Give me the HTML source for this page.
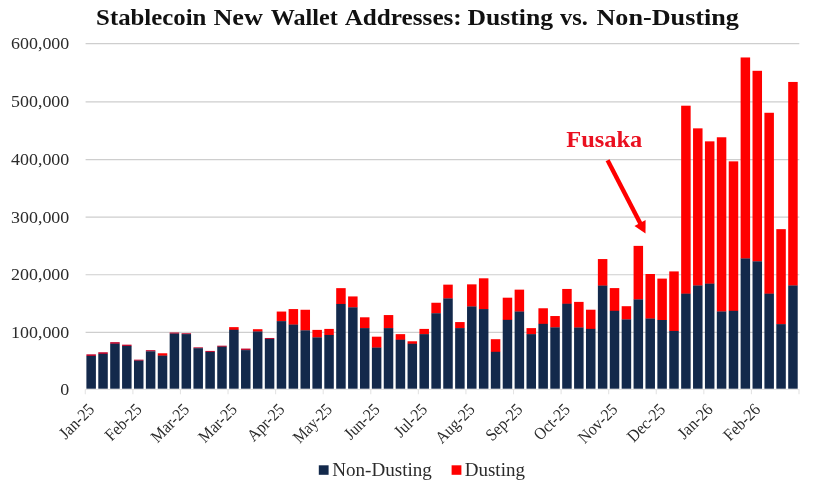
<!DOCTYPE html><html><head><meta charset="utf-8"><title>Stablecoin New Wallet Addresses</title>
<style>html,body{margin:0;padding:0;background:#fff}body{width:825px;height:485px;overflow:hidden}svg{display:block}text{font-family:"Liberation Serif",serif}</style></head><body>
<svg width="825" height="485" viewBox="0 0 825 485">
<rect width="825" height="485" fill="#fff"/>
<line x1="85.60" x2="799.30" y1="332.40" y2="332.40" stroke="#cecece" stroke-width="1.1"/>
<line x1="85.60" x2="799.30" y1="274.80" y2="274.80" stroke="#cecece" stroke-width="1.1"/>
<line x1="85.60" x2="799.30" y1="217.10" y2="217.10" stroke="#cecece" stroke-width="1.1"/>
<line x1="85.60" x2="799.30" y1="159.65" y2="159.65" stroke="#cecece" stroke-width="1.1"/>
<line x1="85.60" x2="799.30" y1="101.85" y2="101.85" stroke="#cecece" stroke-width="1.1"/>
<line x1="85.60" x2="799.30" y1="43.60" y2="43.60" stroke="#cecece" stroke-width="1.1"/>
<line x1="85.20" x2="799.30" y1="389.50" y2="389.50" stroke="#e4e4e4" stroke-width="1"/>
<line x1="85.30" x2="85.30" y1="389.5" y2="394.3" stroke="#e4e4e4" stroke-width="1.1"/>
<line x1="132.88" x2="132.88" y1="389.5" y2="394.3" stroke="#e4e4e4" stroke-width="1.1"/>
<line x1="180.46" x2="180.46" y1="389.5" y2="394.3" stroke="#e4e4e4" stroke-width="1.1"/>
<line x1="228.04" x2="228.04" y1="389.5" y2="394.3" stroke="#e4e4e4" stroke-width="1.1"/>
<line x1="275.62" x2="275.62" y1="389.5" y2="394.3" stroke="#e4e4e4" stroke-width="1.1"/>
<line x1="323.20" x2="323.20" y1="389.5" y2="394.3" stroke="#e4e4e4" stroke-width="1.1"/>
<line x1="370.78" x2="370.78" y1="389.5" y2="394.3" stroke="#e4e4e4" stroke-width="1.1"/>
<line x1="418.36" x2="418.36" y1="389.5" y2="394.3" stroke="#e4e4e4" stroke-width="1.1"/>
<line x1="465.94" x2="465.94" y1="389.5" y2="394.3" stroke="#e4e4e4" stroke-width="1.1"/>
<line x1="513.52" x2="513.52" y1="389.5" y2="394.3" stroke="#e4e4e4" stroke-width="1.1"/>
<line x1="561.10" x2="561.10" y1="389.5" y2="394.3" stroke="#e4e4e4" stroke-width="1.1"/>
<line x1="608.68" x2="608.68" y1="389.5" y2="394.3" stroke="#e4e4e4" stroke-width="1.1"/>
<line x1="656.26" x2="656.26" y1="389.5" y2="394.3" stroke="#e4e4e4" stroke-width="1.1"/>
<line x1="703.84" x2="703.84" y1="389.5" y2="394.3" stroke="#e4e4e4" stroke-width="1.1"/>
<line x1="751.42" x2="751.42" y1="389.5" y2="394.3" stroke="#e4e4e4" stroke-width="1.1"/>
<line x1="799.00" x2="799.00" y1="389.5" y2="394.3" stroke="#e4e4e4" stroke-width="1.1"/>
<text transform="translate(60.36,395.10) scale(1.03,1)" font-size="17.4" fill="#2b2b2b">0</text>
<text transform="translate(11.05,338.00) scale(1.03,1)" font-size="17.4" fill="#2b2b2b">100,000</text>
<text transform="translate(11.05,280.40) scale(1.03,1)" font-size="17.4" fill="#2b2b2b">200,000</text>
<text transform="translate(11.05,222.70) scale(1.03,1)" font-size="17.4" fill="#2b2b2b">300,000</text>
<text transform="translate(11.05,165.25) scale(1.03,1)" font-size="17.4" fill="#2b2b2b">400,000</text>
<text transform="translate(11.05,107.45) scale(1.03,1)" font-size="17.4" fill="#2b2b2b">500,000</text>
<text transform="translate(11.05,49.20) scale(1.03,1)" font-size="17.4" fill="#2b2b2b">600,000</text>
<rect x="86.40" y="354.31" width="9.5" height="1.78" fill="#c20a30"/>
<rect x="86.40" y="355.94" width="9.5" height="32.76" fill="#13294b"/>
<rect x="98.29" y="352.23" width="9.5" height="1.78" fill="#c20a30"/>
<rect x="98.29" y="353.86" width="9.5" height="34.84" fill="#13294b"/>
<rect x="110.19" y="342.13" width="9.5" height="1.78" fill="#c20a30"/>
<rect x="110.19" y="343.76" width="9.5" height="44.94" fill="#13294b"/>
<rect x="122.08" y="344.65" width="9.5" height="1.49" fill="#c20a30"/>
<rect x="122.08" y="345.99" width="9.5" height="42.71" fill="#13294b"/>
<rect x="133.98" y="359.65" width="9.5" height="1.20" fill="#c20a30"/>
<rect x="133.98" y="360.70" width="9.5" height="28.00" fill="#13294b"/>
<rect x="145.87" y="350.15" width="9.5" height="1.34" fill="#c20a30"/>
<rect x="145.87" y="351.34" width="9.5" height="37.36" fill="#13294b"/>
<rect x="157.77" y="353.27" width="9.5" height="2.57" fill="#ff0000"/>
<rect x="157.77" y="355.64" width="9.5" height="33.06" fill="#13294b"/>
<rect x="169.66" y="332.48" width="9.5" height="1.33" fill="#c20a30"/>
<rect x="169.66" y="333.66" width="9.5" height="55.04" fill="#13294b"/>
<rect x="181.56" y="333.22" width="9.5" height="1.03" fill="#c20a30"/>
<rect x="181.56" y="334.10" width="9.5" height="54.60" fill="#13294b"/>
<rect x="193.45" y="347.33" width="9.5" height="1.04" fill="#c20a30"/>
<rect x="193.45" y="348.22" width="9.5" height="40.48" fill="#13294b"/>
<rect x="205.35" y="350.91" width="9.5" height="1.21" fill="#c20a30"/>
<rect x="205.35" y="351.97" width="9.5" height="36.73" fill="#13294b"/>
<rect x="217.24" y="345.68" width="9.5" height="1.21" fill="#c20a30"/>
<rect x="217.24" y="346.74" width="9.5" height="41.96" fill="#13294b"/>
<rect x="229.14" y="327.13" width="9.5" height="2.84" fill="#ff0000"/>
<rect x="229.14" y="329.77" width="9.5" height="58.93" fill="#13294b"/>
<rect x="241.03" y="348.56" width="9.5" height="1.72" fill="#c20a30"/>
<rect x="241.03" y="350.13" width="9.5" height="38.57" fill="#13294b"/>
<rect x="252.93" y="329.20" width="9.5" height="2.50" fill="#ff0000"/>
<rect x="252.93" y="331.50" width="9.5" height="57.20" fill="#13294b"/>
<rect x="264.82" y="337.97" width="9.5" height="1.16" fill="#c20a30"/>
<rect x="264.82" y="338.98" width="9.5" height="49.72" fill="#13294b"/>
<rect x="276.72" y="311.55" width="9.5" height="9.80" fill="#ff0000"/>
<rect x="276.72" y="321.15" width="9.5" height="67.55" fill="#13294b"/>
<rect x="288.61" y="309.07" width="9.5" height="15.73" fill="#ff0000"/>
<rect x="288.61" y="324.60" width="9.5" height="64.10" fill="#13294b"/>
<rect x="300.51" y="309.76" width="9.5" height="20.79" fill="#ff0000"/>
<rect x="300.51" y="330.35" width="9.5" height="58.35" fill="#13294b"/>
<rect x="312.40" y="329.89" width="9.5" height="7.73" fill="#ff0000"/>
<rect x="312.40" y="337.42" width="9.5" height="51.28" fill="#13294b"/>
<rect x="324.30" y="328.91" width="9.5" height="6.24" fill="#ff0000"/>
<rect x="324.30" y="334.95" width="9.5" height="53.75" fill="#13294b"/>
<rect x="336.19" y="288.14" width="9.5" height="16.02" fill="#ff0000"/>
<rect x="336.19" y="303.96" width="9.5" height="84.74" fill="#13294b"/>
<rect x="348.09" y="296.43" width="9.5" height="11.12" fill="#ff0000"/>
<rect x="348.09" y="307.35" width="9.5" height="81.35" fill="#13294b"/>
<rect x="359.98" y="317.30" width="9.5" height="11.01" fill="#ff0000"/>
<rect x="359.98" y="328.11" width="9.5" height="60.59" fill="#13294b"/>
<rect x="371.88" y="336.68" width="9.5" height="11.12" fill="#ff0000"/>
<rect x="371.88" y="347.60" width="9.5" height="41.10" fill="#13294b"/>
<rect x="383.77" y="315.06" width="9.5" height="13.25" fill="#ff0000"/>
<rect x="383.77" y="328.11" width="9.5" height="60.59" fill="#13294b"/>
<rect x="395.67" y="334.14" width="9.5" height="5.78" fill="#ff0000"/>
<rect x="395.67" y="339.72" width="9.5" height="48.98" fill="#13294b"/>
<rect x="407.56" y="341.27" width="9.5" height="2.68" fill="#ff0000"/>
<rect x="407.56" y="343.75" width="9.5" height="44.95" fill="#13294b"/>
<rect x="419.46" y="328.91" width="9.5" height="5.43" fill="#ff0000"/>
<rect x="419.46" y="334.14" width="9.5" height="54.56" fill="#13294b"/>
<rect x="431.35" y="302.75" width="9.5" height="10.72" fill="#ff0000"/>
<rect x="431.35" y="313.27" width="9.5" height="75.43" fill="#13294b"/>
<rect x="443.25" y="284.64" width="9.5" height="14.00" fill="#ff0000"/>
<rect x="443.25" y="298.44" width="9.5" height="90.26" fill="#13294b"/>
<rect x="455.14" y="322.07" width="9.5" height="6.24" fill="#ff0000"/>
<rect x="455.14" y="328.11" width="9.5" height="60.59" fill="#13294b"/>
<rect x="467.04" y="284.35" width="9.5" height="22.34" fill="#ff0000"/>
<rect x="467.04" y="306.49" width="9.5" height="82.21" fill="#13294b"/>
<rect x="478.93" y="278.31" width="9.5" height="30.96" fill="#ff0000"/>
<rect x="478.93" y="309.07" width="9.5" height="79.63" fill="#13294b"/>
<rect x="490.83" y="339.20" width="9.5" height="12.80" fill="#ff0000"/>
<rect x="490.83" y="351.80" width="9.5" height="36.90" fill="#13294b"/>
<rect x="502.72" y="297.69" width="9.5" height="22.34" fill="#ff0000"/>
<rect x="502.72" y="319.83" width="9.5" height="68.87" fill="#13294b"/>
<rect x="514.62" y="289.64" width="9.5" height="22.11" fill="#ff0000"/>
<rect x="514.62" y="311.55" width="9.5" height="77.15" fill="#13294b"/>
<rect x="526.51" y="328.11" width="9.5" height="6.23" fill="#ff0000"/>
<rect x="526.51" y="334.14" width="9.5" height="54.56" fill="#13294b"/>
<rect x="538.41" y="308.27" width="9.5" height="15.78" fill="#ff0000"/>
<rect x="538.41" y="323.85" width="9.5" height="64.85" fill="#13294b"/>
<rect x="550.30" y="316.03" width="9.5" height="11.53" fill="#ff0000"/>
<rect x="550.30" y="327.36" width="9.5" height="61.34" fill="#13294b"/>
<rect x="562.20" y="288.95" width="9.5" height="14.98" fill="#ff0000"/>
<rect x="562.20" y="303.73" width="9.5" height="84.97" fill="#13294b"/>
<rect x="574.09" y="301.89" width="9.5" height="25.84" fill="#ff0000"/>
<rect x="574.09" y="327.53" width="9.5" height="61.17" fill="#13294b"/>
<rect x="585.99" y="309.71" width="9.5" height="19.35" fill="#ff0000"/>
<rect x="585.99" y="328.86" width="9.5" height="59.84" fill="#13294b"/>
<rect x="597.88" y="259.05" width="9.5" height="26.77" fill="#ff0000"/>
<rect x="597.88" y="285.62" width="9.5" height="103.08" fill="#13294b"/>
<rect x="609.78" y="288.09" width="9.5" height="22.91" fill="#ff0000"/>
<rect x="609.78" y="310.80" width="9.5" height="77.90" fill="#13294b"/>
<rect x="621.67" y="306.20" width="9.5" height="13.43" fill="#ff0000"/>
<rect x="621.67" y="319.43" width="9.5" height="69.27" fill="#13294b"/>
<rect x="633.57" y="245.88" width="9.5" height="53.74" fill="#ff0000"/>
<rect x="633.57" y="299.42" width="9.5" height="89.28" fill="#13294b"/>
<rect x="645.46" y="274.00" width="9.5" height="44.76" fill="#ff0000"/>
<rect x="645.46" y="318.56" width="9.5" height="70.14" fill="#13294b"/>
<rect x="657.36" y="278.60" width="9.5" height="41.60" fill="#ff0000"/>
<rect x="657.36" y="320.00" width="9.5" height="68.70" fill="#13294b"/>
<rect x="669.25" y="271.41" width="9.5" height="59.72" fill="#ff0000"/>
<rect x="669.25" y="330.93" width="9.5" height="57.77" fill="#13294b"/>
<rect x="681.15" y="105.70" width="9.5" height="188.17" fill="#ff0000"/>
<rect x="681.15" y="293.67" width="9.5" height="95.03" fill="#13294b"/>
<rect x="693.04" y="128.35" width="9.5" height="157.35" fill="#ff0000"/>
<rect x="693.04" y="285.50" width="9.5" height="103.20" fill="#13294b"/>
<rect x="704.94" y="141.35" width="9.5" height="142.51" fill="#ff0000"/>
<rect x="704.94" y="283.66" width="9.5" height="105.04" fill="#13294b"/>
<rect x="716.83" y="137.27" width="9.5" height="174.42" fill="#ff0000"/>
<rect x="716.83" y="311.49" width="9.5" height="77.21" fill="#13294b"/>
<rect x="728.73" y="161.36" width="9.5" height="149.64" fill="#ff0000"/>
<rect x="728.73" y="310.80" width="9.5" height="77.90" fill="#13294b"/>
<rect x="740.62" y="57.46" width="9.5" height="201.22" fill="#ff0000"/>
<rect x="740.62" y="258.48" width="9.5" height="130.22" fill="#13294b"/>
<rect x="752.52" y="70.80" width="9.5" height="190.75" fill="#ff0000"/>
<rect x="752.52" y="261.35" width="9.5" height="127.35" fill="#13294b"/>
<rect x="764.41" y="112.77" width="9.5" height="181.10" fill="#ff0000"/>
<rect x="764.41" y="293.67" width="9.5" height="95.03" fill="#13294b"/>
<rect x="776.31" y="229.15" width="9.5" height="95.19" fill="#ff0000"/>
<rect x="776.31" y="324.14" width="9.5" height="64.56" fill="#13294b"/>
<rect x="788.20" y="81.95" width="9.5" height="203.75" fill="#ff0000"/>
<rect x="788.20" y="285.50" width="9.5" height="103.20" fill="#13294b"/>
<text transform="translate(95.25,410.50) rotate(-45) scale(0.92,1)" font-size="17" text-anchor="end" fill="#2b2b2b">Jan-25</text>
<text transform="translate(142.83,410.50) rotate(-45) scale(0.92,1)" font-size="17" text-anchor="end" fill="#2b2b2b">Feb-25</text>
<text transform="translate(190.41,410.50) rotate(-45) scale(0.92,1)" font-size="17" text-anchor="end" fill="#2b2b2b">Mar-25</text>
<text transform="translate(237.99,410.50) rotate(-45) scale(0.92,1)" font-size="17" text-anchor="end" fill="#2b2b2b">Mar-25</text>
<text transform="translate(285.57,410.50) rotate(-45) scale(0.92,1)" font-size="17" text-anchor="end" fill="#2b2b2b">Apr-25</text>
<text transform="translate(333.15,410.50) rotate(-45) scale(0.88,1)" font-size="17" text-anchor="end" fill="#2b2b2b">May-25</text>
<text transform="translate(380.73,410.50) rotate(-45) scale(0.92,1)" font-size="17" text-anchor="end" fill="#2b2b2b">Jun-25</text>
<text transform="translate(428.31,410.50) rotate(-45) scale(0.92,1)" font-size="17" text-anchor="end" fill="#2b2b2b">Jul-25</text>
<text transform="translate(475.89,410.50) rotate(-45) scale(0.92,1)" font-size="17" text-anchor="end" fill="#2b2b2b">Aug-25</text>
<text transform="translate(523.47,410.50) rotate(-45) scale(0.92,1)" font-size="17" text-anchor="end" fill="#2b2b2b">Sep-25</text>
<text transform="translate(571.05,410.50) rotate(-45) scale(0.92,1)" font-size="17" text-anchor="end" fill="#2b2b2b">Oct-25</text>
<text transform="translate(618.63,410.50) rotate(-45) scale(0.92,1)" font-size="17" text-anchor="end" fill="#2b2b2b">Nov-25</text>
<text transform="translate(666.21,410.50) rotate(-45) scale(0.92,1)" font-size="17" text-anchor="end" fill="#2b2b2b">Dec-25</text>
<text transform="translate(713.79,410.50) rotate(-45) scale(0.92,1)" font-size="17" text-anchor="end" fill="#2b2b2b">Jan-26</text>
<text transform="translate(761.37,410.50) rotate(-45) scale(0.92,1)" font-size="17" text-anchor="end" fill="#2b2b2b">Feb-26</text>
<text transform="translate(96.09,25.0) scale(1.0518,1)" font-size="23.6" font-weight="bold" fill="#111111">Stablecoin</text>
<text transform="translate(213.45,25.0) scale(1.1091,1)" font-size="23.6" font-weight="bold" fill="#111111">New</text>
<text transform="translate(270.72,25.0) scale(1.0242,1)" font-size="23.6" font-weight="bold" fill="#111111">Wallet</text>
<text transform="translate(344.63,25.0) scale(1.0682,1)" font-size="23.6" font-weight="bold" fill="#111111">Addresses:</text>
<text transform="translate(467.59,25.0) scale(1.0867,1)" font-size="23.6" font-weight="bold" fill="#111111">Dusting</text>
<text transform="translate(560.10,25.0) scale(1.0357,1)" font-size="23.6" font-weight="bold" fill="#111111">vs.</text>
<text transform="translate(596.45,25.0) scale(1.1092,1)" font-size="23.6" font-weight="bold" fill="#111111">Non-Dusting</text>
<text transform="translate(566.22,147.3) scale(1.0189,1)" font-size="24" font-weight="bold" fill="#ea1020">Fusaka</text>
<text transform="translate(332.19,475.6) scale(1.0105,1)" font-size="18.9" font-weight="normal" fill="#2b2b2b">Non-Dusting</text>
<text transform="translate(464.70,475.6) scale(1.0068,1)" font-size="18.9" font-weight="normal" fill="#2b2b2b">Dusting</text>
<line x1="607.6" y1="160.2" x2="640.5" y2="223.8" stroke="#ff0000" stroke-width="4.4"/>
<polygon points="645.5,233.5 634.5,225.9 645.6,220.1" fill="#ff0000"/>
<rect x="318.8" y="465.3" width="9.8" height="9.5" fill="#13294b"/>
<rect x="451.6" y="465.3" width="9.8" height="9.5" fill="#ff0000"/>
</svg></body></html>
